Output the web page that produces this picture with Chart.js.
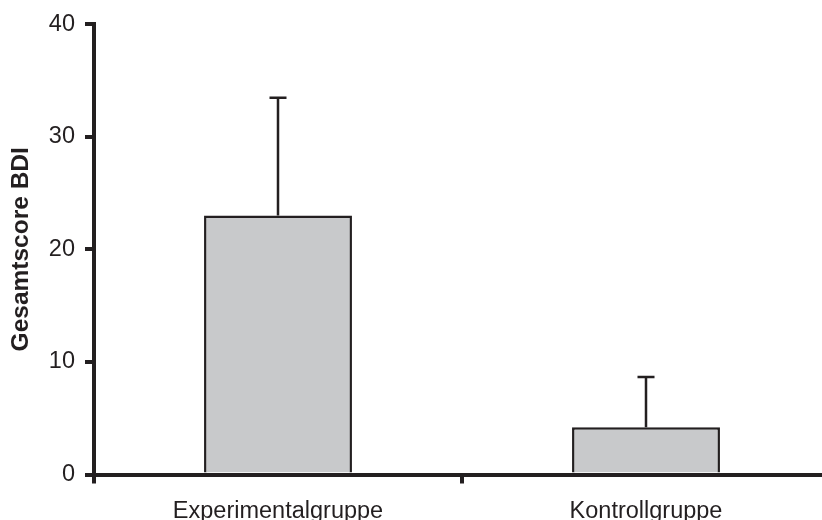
<!DOCTYPE html>
<html>
<head>
<meta charset="utf-8">
<script src="https://cdn.jsdelivr.net/npm/chart.js@4"></script>
<style>
  html, body { margin: 0; padding: 0; background: #fff; overflow: hidden; width: 822px; height: 520px; }
  canvas { display: block; }
</style>
</head>
<body>
<canvas id="c" width="830" height="520" style="width:830px;height:520px"></canvas>
<script>
const categories = ['Experimentalgruppe', 'Kontrollgruppe'];
const means = [23.0, 4.2];
const errors = [10.45, 4.45];
const yMin = 0;
const yMax = 40;
const yStep = 10;
const yTitle = 'Gesamtscore BDI';

const INK = '#231f20';
const FONT = '"Liberation Sans", Arial, Helvetica, sans-serif';

const errorBarPlugin = {
  id: 'errorBars',
  afterDatasetsDraw(chart) {
    const meta = chart.getDatasetMeta(0);
    const y = chart.scales.y;
    const ctx = chart.ctx;
    ctx.save();
    ctx.strokeStyle = INK;
    ctx.lineWidth = 2.5;
    meta.data.forEach((bar, i) => {
      const top = y.getPixelForValue(means[i] + errors[i]);
      const base = y.getPixelForValue(means[i]);
      ctx.beginPath();
      ctx.moveTo(bar.x, base);
      ctx.lineTo(bar.x, top);
      ctx.moveTo(bar.x - 8.5, top);
      ctx.lineTo(bar.x + 8.5, top);
      ctx.stroke();
    });
    ctx.restore();
  }
};

new Chart(document.getElementById('c'), {
  type: 'bar',
  data: {
    labels: categories,
    datasets: [{
      data: means,
      backgroundColor: '#c8c9cb',
      borderColor: INK,
      borderWidth: 2.5,
      barPercentage: 0.402,
      categoryPercentage: 1.0
    }]
  },
  options: {
    responsive: false,
    animation: false,
    devicePixelRatio: 1,
    layout: { padding: { top: 23, left: 0, right: 0, bottom: 0 } },
    plugins: { legend: { display: false }, tooltip: { enabled: false } },
    scales: {
      x: {
        z: 1,
        offset: true,
        grid: { display: true, drawOnChartArea: false, drawTicks: true, tickLength: 9, tickWidth: 4, lineWidth: 4, color: INK, offset: true },
        border: { display: true, width: 4, color: INK },
        ticks: { color: INK, font: { family: FONT, size: 23.5 }, padding: 14, maxRotation: 0 },
        afterFit(scale) { scale.height = 45.5; }
      },
      y: {
        z: 1,
        min: yMin,
        max: yMax,
        grid: { display: true, drawOnChartArea: false, drawTicks: true, tickLength: 9, tickWidth: 4, lineWidth: 4, color: INK },
        border: { display: true, width: 4, color: INK },
        ticks: { stepSize: yStep, color: INK, font: { family: FONT, size: 23.5 }, padding: 10 },
        title: { display: true, text: yTitle, color: INK, font: { family: FONT, size: 24.5, weight: 'bold' }, padding: { top: 7, bottom: 0 } },
        afterFit(scale) { scale.width = 94; }
      }
    }
  },
  plugins: [errorBarPlugin]
});
</script>
</body>
</html>
